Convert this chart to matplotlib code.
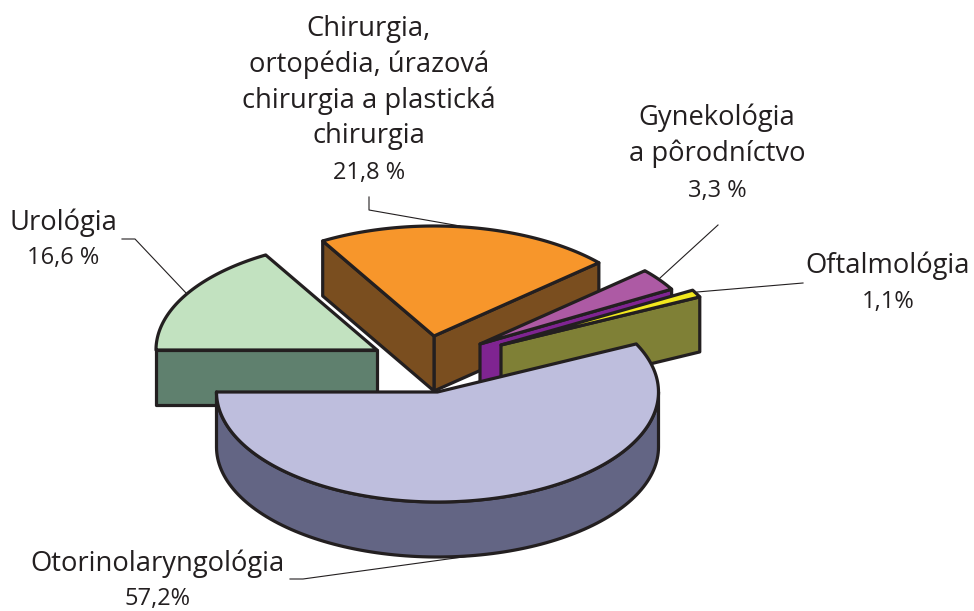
import numpy as np
import matplotlib.pyplot as plt
from matplotlib.patches import Polygon

plt.rcParams['font.family'] = ['Open Sans', 'DejaVu Sans']

# poradie od 180 stupnov proti smeru hodin
labels = ['Otorinolaryngológia', 'Oftalmológia', 'Gynekológia\na pôrodníctvo',
          'Chirurgia,\nortopédia, úrazová\nchirurgia a plastická\nchirurgia',
          'Urológia']
percents = ['57,2%', '1,1%', '3,3 %', '21,8 %', '16,6 %']
values = [57.2, 1.1, 3.3, 21.8, 16.6]

top_colors = ['#BEBEDD', '#F2E81E', '#AD5AA4', '#F7962B', '#C2E2C0']
side_colors = ['#636584', '#7F8036', '#7F2491', '#7A4E1F', '#5F806E']

# stredy vyrezov v pixeloch obrazka
apex_x = [437.5, 501, 480, 434, 377]
apex_y = [392, 345, 344, 336, 350]
draw_order = [4, 3, 2, 1, 0]

rx, ry, depth = 221, 110, 55
edge = '#231F20'
lw = 2.3


def point(i, deg):
    t = np.radians(deg)
    return apex_x[i] + rx * np.cos(t), apex_y[i] - ry * np.sin(t)


def wall(pts, color):
    pts = np.array(pts)
    low = pts + [0, depth]
    poly = Polygon(np.vstack([pts, low[::-1]]), closed=True, facecolor=color,
                   edgecolor=edge, linewidth=lw, joinstyle='round')
    ax.add_patch(poly)


fig = plt.figure(figsize=(9.74, 6.11), dpi=100)
ax = fig.add_axes([0, 0, 1, 1])
ax.set_xlim(0, 974)
ax.set_ylim(611, 0)
ax.axis('off')

bounds = 180 + np.cumsum([0] + values) * 3.6

for i in draw_order:
    a, b = bounds[i], bounds[i + 1]
    apex = (apex_x[i], apex_y[i])

    # steny viditelne zhora: radialne a spodna cast oblika
    if np.cos(np.radians(a)) > 0:
        wall([apex, point(i, a)], side_colors[i])
    if np.cos(np.radians(b)) < 0:
        wall([point(i, b), apex], side_colors[i])
    for start in (180, 540):
        lo, hi = max(a, start), min(b, start + 180)
        if hi > lo:
            arc = [point(i, d) for d in np.linspace(lo, hi, 120)]
            wall(arc, side_colors[i])

    top = [apex] + [point(i, d) for d in np.linspace(a, b, 160)]
    ax.add_patch(Polygon(top, closed=True, facecolor=top_colors[i], edgecolor=edge,
                         linewidth=lw, joinstyle='round'))

# odkazove ciary
leaders = [
    ([290, 303, 470], [579, 579, 556]),
    ([803, 697], [283, 292]),
    ([718, 660], [225, 278]),
    ([369, 369, 460], [197, 210, 226]),
    ([122, 135, 187], [239, 239, 294]),
]
for xs, ys in leaders:
    ax.plot(xs, ys, color=edge, lw=0.8, zorder=1)

# popisky
label_x = [158, 888, 717, 369, 63]
label_y = [563.5, 266, 135.5, 82.5, 223]
pct_y = [599, 302, 191, 173, 258]
for i in range(len(labels)):
    ax.text(label_x[i], label_y[i], labels[i], ha='center', va='center', fontsize=19.7,
            color=edge, linespacing=1.33)
    ax.text(label_x[i], pct_y[i], percents[i], ha='center', va='center', fontsize=17,
            color=edge)

fig.savefig('out.png', dpi=100)
